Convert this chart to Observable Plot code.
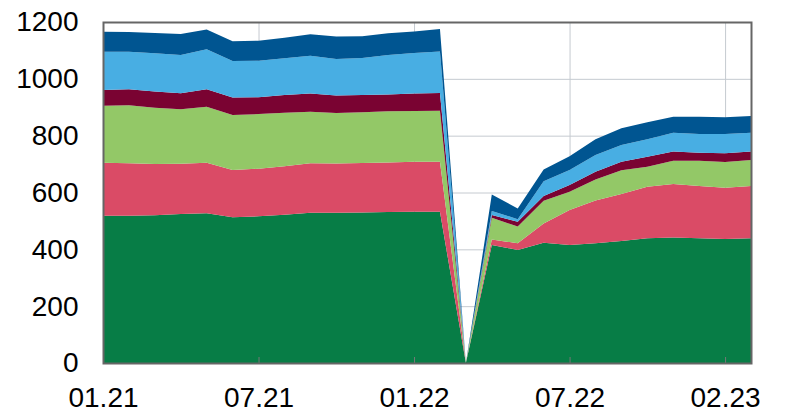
<!DOCTYPE html>
<html><head><meta charset="utf-8">
<script src="https://cdn.jsdelivr.net/npm/d3@7"></script>
<script src="https://cdn.jsdelivr.net/npm/@observablehq/plot@0.6"></script>
<style>body{margin:0;background:#fff} svg{display:block}</style>
</head><body><div id="chart"></div>
<script>
const months = ["01.21","02.21","03.21","04.21","05.21","06.21","07.21","08.21","09.21","10.21","11.21","12.21",
                "01.22","02.22","03.22","04.22","05.22","06.22","07.22","08.22","09.22","10.22","11.22","12.22",
                "01.23","02.23"];
const tickIdx = [0, 6, 12, 18, 24];
const tickLabels = ["01.21", "07.21", "01.22", "07.22", "02.23"];
const yTicks = [0, 200, 400, 600, 800, 1000, 1200];

const seriesNames = ["Series 1", "Series 2", "Series 3", "Series 4", "Series 5", "Series 6"];
const seriesColors = ["#077d46", "#da4b66", "#93c867", "#7a0332", "#48aee3", "#005591"];

const s1 = [518,518,520,524,527,513,516,522,529,529,530,531,532,532, 0,415,398,423,415,421,429,439,442,439,436,439];
const s2 = [187,185,180,177,178,166,168,170,174,173,174,175,176,176, 0, 20, 23, 68,123,151,166,181,188,184,181,184];
const s3 = [200,204,198,192,197,194,192,189,181,178,178,180,179,180, 0, 76, 59, 80, 65, 74, 83, 71, 82, 89, 90, 91];
const s4 = [ 56, 56, 57, 56, 61, 61, 59, 62, 64, 61, 61, 59, 61, 62, 0, 10, 17, 17, 23, 27, 30, 35, 32, 28, 31, 30];
const s5 = [134,132,135,135,141,129,129,129,133,129,130,139,143,146, 0, 14,  9, 52, 53, 59, 59, 61, 66, 66, 68, 66];
const s6 = [ 71, 70, 71, 74, 70, 69, 70, 73, 76, 79, 77, 76, 76, 79, 0, 58, 38, 41, 49, 55, 59, 60, 57, 61, 59, 59];

const seriesValues = [s1, s2, s3, s4, s5, s6];
const data = seriesNames.flatMap((name, k) =>
  seriesValues[k].map((v, i) => ({i, month: months[i], series: name, value: v})));

const chart = Plot.plot({
  width: 788, height: 413,
  marginTop: 22, marginBottom: 50, marginLeft: 103, marginRight: 37,
  style: {fontFamily: "'Liberation Sans', Arial, sans-serif", fontSize: "28px", color: "#000", background: "#fff"},
  x: {domain: [0, months.length - 1], label: null},
  y: {domain: [0, 1200], label: null},
  color: {domain: seriesNames, range: seriesColors},
  marks: [
    Plot.gridX(tickIdx.slice(1), {stroke: "#c5cad0", strokeOpacity: 1}),
    Plot.gridY(yTicks.slice(1, -1), {stroke: "#c5cad0", strokeOpacity: 1}),
    Plot.areaY(data, {x: "i", y: "value", fill: "series", z: "series"}),
    Plot.axisX(tickIdx, {tickSize: 0, tickPadding: 24, tickFormat: d => tickLabels[tickIdx.indexOf(d)], fontSize: 28, label: null}),
    Plot.axisX(tickIdx.slice(1), {tickSize: -6, tickFormat: () => "", stroke: "#777", label: null}),
    Plot.axisY(yTicks, {tickSize: 0, tickPadding: 25, tickFormat: d => String(d), fontSize: 28, label: null}),
    Plot.frame({stroke: "#666", strokeWidth: 2})
  ]
});
document.getElementById("chart").appendChild(chart);
</script>
</body></html>
